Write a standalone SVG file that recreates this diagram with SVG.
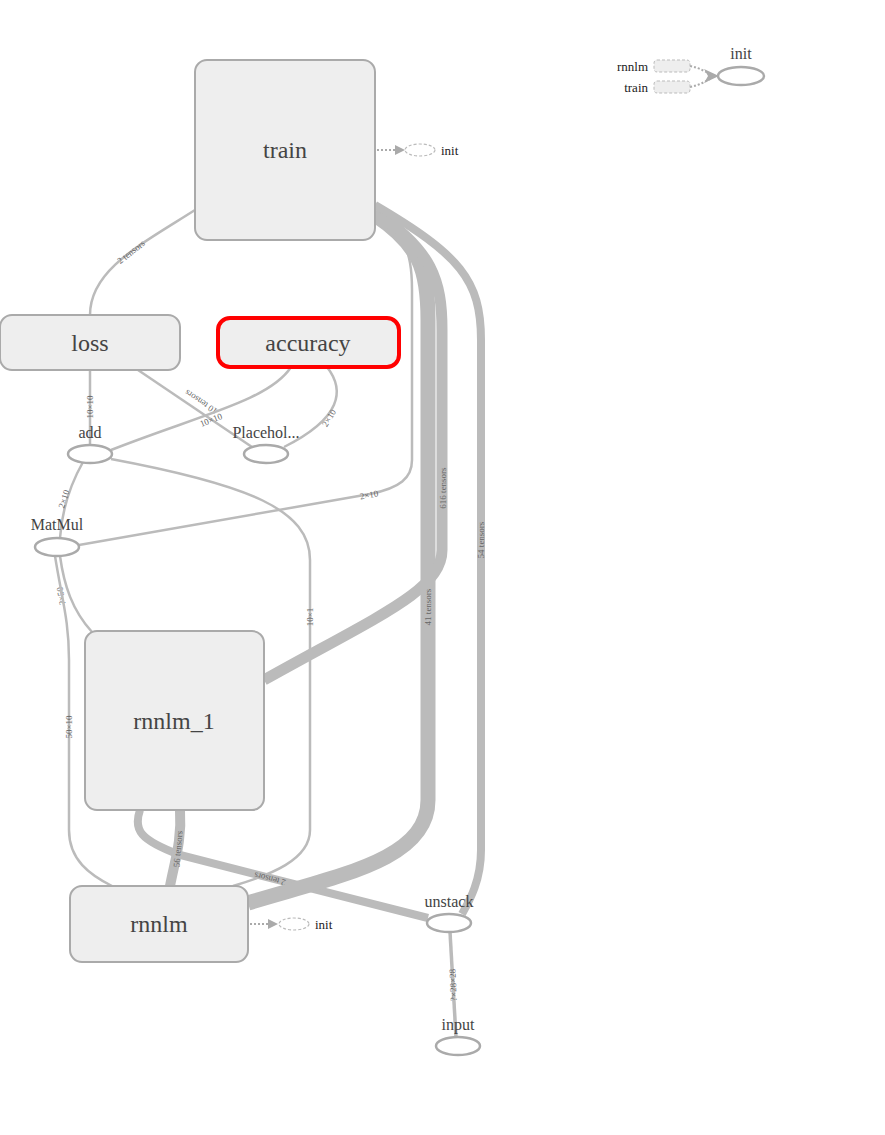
<svg xmlns="http://www.w3.org/2000/svg" width="885" height="1135" viewBox="0 0 885 1135">
<style>
.e{fill:none;stroke:#bbb;stroke-width:2.5}
.el{font-family:"Liberation Serif",serif;font-size:9px;fill:#666;text-anchor:middle;dominant-baseline:central}
.box{fill:#eee;stroke:#aaa;stroke-width:2}
.op{fill:#fff;stroke:#aaa;stroke-width:2.5}
.lbl{font-family:"Liberation Serif",serif;fill:#444;text-anchor:middle;dominant-baseline:central}
.big{font-size:24px}
.sm{font-size:16px}
.ctl{fill:none;stroke:#aaa;stroke-width:2;stroke-dasharray:2,2}
.dnode{fill:#fff;stroke:#bbb;stroke-width:1.2;stroke-dasharray:3,2}
.drect{fill:#eee;stroke:#bbb;stroke-width:1;stroke-dasharray:3,2}
.tiny{font-family:"Liberation Serif",serif;font-size:13px;fill:#222;dominant-baseline:central}
</style>
<g id="connectors">
  <path class="e" d="M195,210 C140,245 90,270 90,315"/>
  <text class="el" transform="translate(131,252) rotate(-38)">2 tensors</text>
  <path class="e" d="M90,370 L90,445"/>
  <text class="el" transform="translate(90,407) rotate(-90)">10×10</text>
  <path class="e" d="M138,370 L252,447"/>
  <text class="el" transform="translate(201,402) rotate(214)">10 tensors</text>
  <path class="e" d="M291,367 C270,400 200,415 111,450"/>
  <text class="el" transform="translate(211,420) rotate(-22)">10×10</text>
  <path class="e" d="M327,367 C345,390 342,418 284,447"/>
  <text class="el" transform="translate(329,418) rotate(-58)">2×10</text>
  <path class="e" d="M111,459 C250,485 310,510 310,560 L310,830 C310,860 270,875 233,886"/>
  <text class="el" transform="translate(310,617) rotate(-90)">10×1</text>
  <path class="e" d="M83,462 C70,485 62,510 60,538"/>
  <text class="el" transform="translate(64,499) rotate(-72)">2×10</text>
  <path class="e" d="M402,238 C410,255 412,270 412,290 L412,460 C412,478 400,488 370,494 L79,545"/>
  <text class="el" transform="translate(369,495) rotate(-10)">2×10</text>
  <path class="e" d="M60,556 C64,585 72,610 92,632"/>
  <text class="el" transform="translate(61,596) rotate(-100)">?×50</text>
  <path class="e" d="M55,556 C62,600 69,620 69,660 L69,830 C69,860 90,875 112,886"/>
  <text class="el" transform="translate(69,727) rotate(-90)">50×10</text>
  <path class="e" style="stroke-width:8" d="M140,810 C133,830 140,840 180,855 L428,918"/>
  <text class="el" transform="translate(270,879) rotate(194)">2 tensors</text>
  <path class="e" style="stroke-width:15" d="M375,215 C420,245 428,270 428,320 L428,800 C428,860 340,875 248,903"/>
  <text class="el" transform="translate(428,607) rotate(-90)">41 tensors</text>
  <path class="e" style="stroke-width:11" d="M375,212 C432,250 442,280 442,330 L442,550 C442,590 380,615 264,680"/>
  <text class="el" transform="translate(443,488) rotate(-90)">616 tensors</text>
  <path class="e" style="stroke-width:8" d="M375,205 C460,255 481,280 481,340 L481,850 C481,880 470,900 462,914"/>
  <text class="el" transform="translate(481,540) rotate(-90)">54 tensors</text>
  <path class="e" style="stroke-width:10" d="M180,810 C182,840 175,860 170,886"/>
  <text class="el" transform="translate(178,849) rotate(-85)">56 tensors</text>
  <path class="e" style="stroke-width:3.5" d="M450,932 L456,1037"/>
  <text class="el" transform="translate(453,985) rotate(-93)">?×28×28</text>
  <path class="ctl" d="M377,150 L396,150"/>
  <path fill="#aaa" d="M395,145 L405,150 L395,155 Z"/>
  <path class="ctl" d="M250,924 L269,924"/>
  <path fill="#aaa" d="M268,919 L278,924 L268,929 Z"/>
  <path class="ctl" d="M690,66 C700,68 706,72 712,75"/>
  <path class="ctl" d="M690,87 C700,85 706,81 712,78"/>
  <path fill="#aaa" d="M704,69 L719,76 L704,83 L708,76 Z"/>
</g>
<g id="train"><rect class="box" x="195" y="60" width="180" height="180" rx="12"/><text class="lbl big" x="285" y="150">train</text></g>
<g id="loss"><rect class="box" x="0" y="315" width="180" height="55" rx="12"/><text class="lbl big" x="90" y="343">loss</text></g>
<g id="accuracy"><rect class="box" style="stroke:#f00;stroke-width:4" x="218" y="318" width="181" height="49" rx="12"/><text class="lbl big" x="308" y="343">accuracy</text></g>
<g id="rnnlm_1"><rect class="box" x="85" y="631" width="179" height="179" rx="12"/><text class="lbl big" x="174" y="721">rnnlm_1</text></g>
<g id="rnnlm"><rect class="box" x="70" y="886" width="178" height="76" rx="12"/><text class="lbl big" x="159" y="924">rnnlm</text></g>
<g id="add"><ellipse class="op" cx="90" cy="454" rx="22" ry="9"/><text class="lbl sm" x="90" y="432">add</text></g>
<g id="Placeholder"><ellipse class="op" cx="266" cy="454" rx="22" ry="9"/><text class="lbl sm" x="266" y="432">Placehol...</text></g>
<g id="MatMul"><ellipse class="op" cx="57" cy="547" rx="22" ry="9"/><text class="lbl sm" x="57" y="524">MatMul</text></g>
<g id="unstack"><ellipse class="op" cx="449" cy="923" rx="22" ry="9"/><text class="lbl sm" x="449" y="901">unstack</text></g>
<g id="input"><ellipse class="op" cx="458" cy="1046" rx="22" ry="9"/><text class="lbl sm" x="458" y="1024">input</text></g>
<g id="train_init"><ellipse class="dnode" cx="420" cy="150" rx="15" ry="6"/><text class="tiny" x="441" y="150">init</text></g>
<g id="rnnlm_init"><ellipse class="dnode" cx="294" cy="924" rx="15" ry="6"/><text class="tiny" x="315" y="924">init</text></g>
<g id="init"><ellipse class="op" cx="741" cy="76" rx="23" ry="9"/><text class="lbl sm" x="741" y="53">init</text></g>
<g id="init_rnnlm"><rect class="drect" x="654" y="60" width="36" height="12" rx="3"/><text class="tiny" x="648" y="66" text-anchor="end">rnnlm</text></g>
<g id="init_train"><rect class="drect" x="654" y="81" width="36" height="12" rx="3"/><text class="tiny" x="648" y="87" text-anchor="end">train</text></g>
</svg>
